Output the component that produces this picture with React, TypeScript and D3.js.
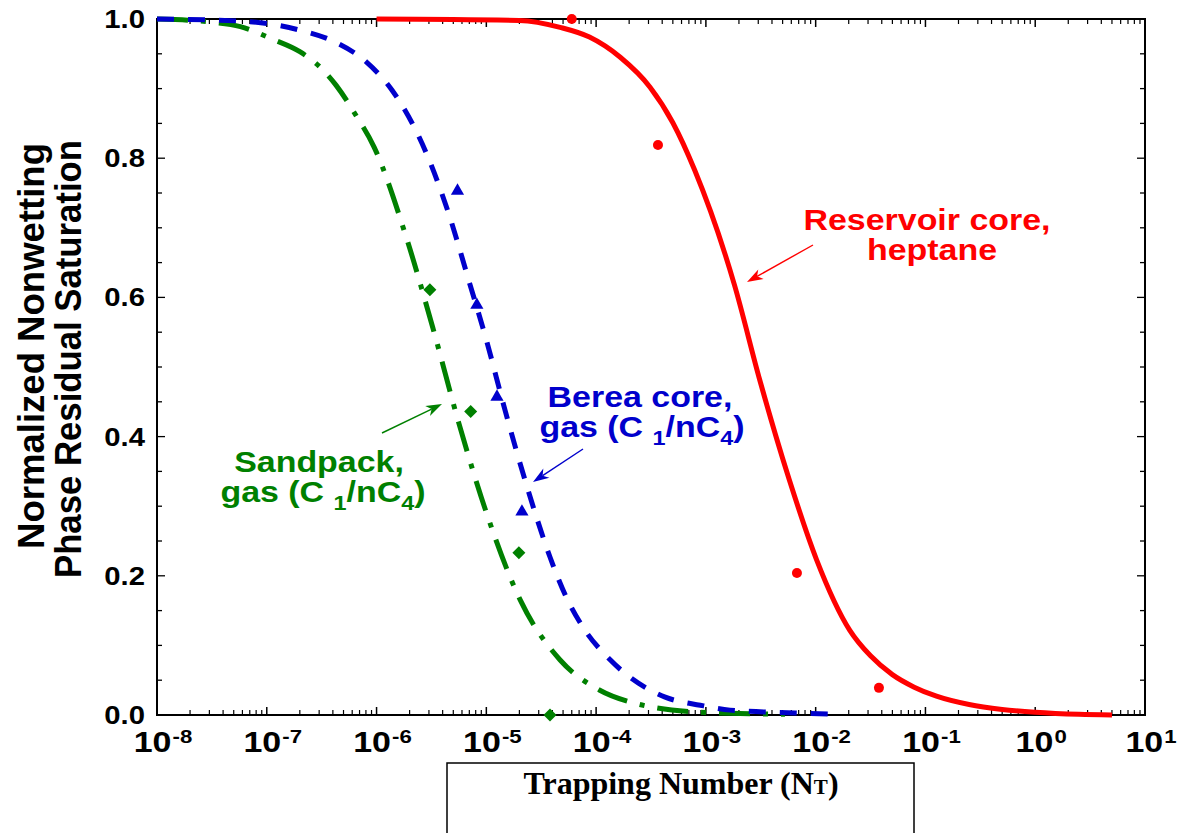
import React from "react";
import * as d3 from "d3";

// ---------- data ----------
// Reservoir core, heptane (fitted curve): [NT, normalized Snr]
const redCurveNT = [1e-6, 2.0e-5, 4.7e-5, 8.7e-5, 1.66e-4, 3.1e-4, 5.0e-4, 7.9e-4, 1.82e-3, 3.1e-3, 5.75e-3, 1.02e-2, 2.04e-2, 3.16e-2, 5.0e-2, 7.9e-2, 0.126, 0.25, 0.5, 1.0, 2.5, 5.0];
const redCurveS = [1.0, 0.998, 0.988, 0.974, 0.945, 0.902, 0.851, 0.783, 0.618, 0.481, 0.338, 0.223, 0.122, 0.085, 0.058, 0.04, 0.027, 0.015, 0.008, 0.004, 0.001, 0.0];
const redPointsNT = [6.0e-5, 3.66e-4, 6.75e-3, 3.77e-2];
const redPointsS = [1.0, 0.819, 0.204, 0.039];

// Berea core, gas (C1/nC4)
const blueCurveNT = [1e-8, 5.75e-8, 2.0e-7, 4.17e-7, 8.1e-7, 1.38e-6, 2.88e-6, 4.68e-6, 6.9e-6, 1.0e-5, 1.48e-5, 2.4e-5, 3.8e-5, 5.25e-5, 7.9e-5, 1.35e-4, 4.2e-4, 8.9e-4, 1.66e-3, 6.5e-3, 1.55e-2];
const blueCurveS = [1.0, 0.997, 0.984, 0.967, 0.938, 0.898, 0.805, 0.714, 0.625, 0.539, 0.438, 0.323, 0.227, 0.172, 0.122, 0.079, 0.026, 0.014, 0.007, 0.003, 0.001];
const bluePointsNT = [5.46e-6, 8.2e-6, 1.25e-5, 2.11e-5];
const bluePointsS = [0.753, 0.589, 0.457, 0.292];

// Sandpack, gas (C1/nC4)
const greenCurveNT = [1e-8, 2.9e-8, 5.75e-8, 1.17e-7, 2.0e-7, 3.24e-7, 4.27e-7, 6.46e-7, 9.5e-7, 1.86e-6, 3.3e-6, 5.6e-6, 1.02e-5, 2.04e-5, 4.7e-5, 1.07e-4, 2.24e-4, 8.9e-4, 5.25e-3];
const greenCurveS = [1.0, 0.996, 0.989, 0.97, 0.953, 0.927, 0.905, 0.862, 0.816, 0.687, 0.553, 0.42, 0.287, 0.165, 0.079, 0.036, 0.017, 0.004, 0.001];
const greenPointsNT = [3.06e-6, 7.2e-6, 1.98e-5, 3.8e-5];
const greenPointsS = [0.611, 0.436, 0.233, 0.0];

// axes
const xDecades = [-8, -7, -6, -5, -4, -3, -2, -1, 0, 1];
const yTickValues = [0, 0.2, 0.4, 0.6, 0.8, 1.0];
const yTickLabels = ["0.0", "0.2", "0.4", "0.6", "0.8", "1.0"];

const RED = "#ff0000";
const BLUE = "#0000cc";
const GREEN = "#008000";
const SANS = "'Liberation Sans', Arial, Helvetica, sans-serif";
const SERIF = "'Liberation Serif', 'Times New Roman', serif";
const SX = 1.17; // horizontal stretch of the original lettering

const W = 1183;
const H = 833;

const x = d3.scaleLog().domain([1e-8, 1e1]).range([157, 1145]);
const y = d3.scaleLinear().domain([0, 1]).range([715, 19]);

const zip = (a: number[], b: number[]) => a.map((v, i) => [v, b[i]] as [number, number]);

const line = d3
  .line<[number, number]>()
  .x((d) => x(d[0]))
  .y((d) => y(d[1]))
  .curve(d3.curveMonotoneX);

function Arrow({ x1, y1, x2, y2, color }: { x1: number; y1: number; x2: number; y2: number; color: string }) {
  const ang = Math.atan2(y2 - y1, x2 - x1);
  const L = 16;
  const Wd = 5.5;
  const ux = Math.cos(ang);
  const uy = Math.sin(ang);
  const bx = x2 - ux * L;
  const by = y2 - uy * L;
  const nx = x2 - ux * L * 0.72;
  const ny = y2 - uy * L * 0.72;
  const p = `M${x2},${y2} L${bx - uy * Wd},${by + ux * Wd} L${nx},${ny} L${bx + uy * Wd},${by - ux * Wd} Z`;
  return (
    <g>
      <line x1={x1} y1={y1} x2={nx} y2={ny} stroke={color} strokeWidth={1.4} />
      <path d={p} fill={color} />
    </g>
  );
}

function Label({ cx, by, color, children }: { cx: number; by: number; color: string; children: React.ReactNode }) {
  return (
    <text
      transform={`translate(${cx},${by}) scale(${SX},1)`}
      textAnchor="middle"
      fontFamily={SANS}
      fontWeight="bold"
      fontSize={29}
      fill={color}
    >
      {children}
    </text>
  );
}

function GasLabel({ cx, by, color }: { cx: number; by: number; color: string }) {
  return (
    <Label cx={cx} by={by} color={color}>
      gas (C{" "}
      <tspan fontSize={20} dy={8}>1</tspan>
      <tspan dy={-8}>/nC</tspan>
      <tspan fontSize={20} dy={8}>4</tspan>
      <tspan dy={-8}>)</tspan>
    </Label>
  );
}

export default function App() {
  const [x0, x1] = x.range();
  const [yb, yt] = y.range();

  const xMajor = xDecades.map((k) => Math.pow(10, k));
  const xMinor: number[] = [];
  xDecades.slice(0, -1).forEach((k) => {
    for (let m = 2; m <= 9; m++) xMinor.push(m * Math.pow(10, k));
  });
  const yAll = d3.range(0, 21).map((i) => i * 0.05);

  const redData = zip(redCurveNT, redCurveS);
  const blueData = zip(blueCurveNT, blueCurveS);
  const greenData = zip(greenCurveNT, greenCurveS);

  const tri = d3.symbol().type(d3.symbolTriangle).size(75)() as string;

  return (
    <svg
      width={W}
      height={H}
      viewBox={`0 0 ${W} ${H}`}
      style={{ position: "absolute", left: 0, top: 0, background: "#fff" }}
    >
      <rect x={0} y={0} width={W} height={H} fill="#fff" />

      {/* frame */}
      <rect x={x0} y={yt} width={x1 - x0} height={yb - yt} fill="none" stroke="#000" strokeWidth={2} />

      {/* x ticks, bottom and top, inward */}
      {xMajor.map((v, i) => (
        <g key={"xM" + i}>
          <line x1={x(v)} x2={x(v)} y1={yb} y2={yb - 8} stroke="#000" strokeWidth={1.5} />
          <line x1={x(v)} x2={x(v)} y1={yt} y2={yt + 8} stroke="#000" strokeWidth={1.5} />
        </g>
      ))}
      {xMinor.map((v, i) => (
        <g key={"xm" + i}>
          <line x1={x(v)} x2={x(v)} y1={yb} y2={yb - 5} stroke="#000" strokeWidth={1.2} />
          <line x1={x(v)} x2={x(v)} y1={yt} y2={yt + 5} stroke="#000" strokeWidth={1.2} />
        </g>
      ))}
      {/* y ticks, left and right, inward */}
      {yAll.map((v, i) => {
        const major = i % 4 === 0;
        const len = major ? 8 : 5;
        return (
          <g key={"y" + i}>
            <line x1={x0} x2={x0 + len} y1={y(v)} y2={y(v)} stroke="#000" strokeWidth={1.3} />
            <line x1={x1} x2={x1 - len} y1={y(v)} y2={y(v)} stroke="#000" strokeWidth={1.3} />
          </g>
        );
      })}

      {/* y tick labels */}
      {yTickValues.map((v, i) => (
        <text
          key={"yl" + i}
          transform={`translate(145,${y(v) + 9}) scale(${SX},1)`}
          textAnchor="end"
          fontFamily={SANS}
          fontWeight="bold"
          fontSize={25}
          fill="#000"
        >
          {yTickLabels[i]}
        </text>
      ))}

      {/* x tick labels */}
      {xDecades.map((k, i) => (
        <text
          key={"xl" + i}
          transform={`translate(${x(Math.pow(10, k)) + 6},752) scale(${SX},1)`}
          textAnchor="middle"
          fontFamily={SANS}
          fontWeight="bold"
          fontSize={29}
          fill="#000"
        >
          10
          <tspan fontSize={19} dy={-9} dx={1}>{String(k)}</tspan>
        </text>
      ))}

      {/* y title */}
      <text
        transform="translate(44,346) rotate(-90)"
        textAnchor="middle"
        fontFamily={SANS}
        fontWeight="bold"
        fontSize={37}
        textLength={406}
        lengthAdjust="spacingAndGlyphs"
        fill="#000"
      >
        Normalized Nonwetting
      </text>
      <text
        transform="translate(81,359) rotate(-90)"
        textAnchor="middle"
        fontFamily={SANS}
        fontWeight="bold"
        fontSize={37}
        textLength={438}
        lengthAdjust="spacingAndGlyphs"
        fill="#000"
      >
        Phase Residual Saturation
      </text>

      {/* x title box */}
      <rect x={447} y={763} width={467} height={100} fill="#fff" stroke="#000" strokeWidth={1.5} />
      <text x={681} y={794} textAnchor="middle" fontFamily={SERIF} fontWeight="bold" fontSize={32} fill="#000">
        Trapping Number (N<tspan fontSize={21}>T</tspan>)
      </text>

      {/* curves */}
      <path d={line(greenData) as string} fill="none" stroke={GREEN} strokeWidth={5} strokeDasharray="31 13 5 13" />
      <path d={line(blueData) as string} fill="none" stroke={BLUE} strokeWidth={5} strokeDasharray="17 14" />
      <path d={line(redData) as string} fill="none" stroke={RED} strokeWidth={5} />

      {/* data points */}
      {zip(redPointsNT, redPointsS).map((d, i) => (
        <circle key={"rp" + i} cx={x(d[0])} cy={y(d[1])} r={5} fill={RED} />
      ))}
      {zip(bluePointsNT, bluePointsS).map((d, i) => (
        <path key={"bp" + i} d={tri} transform={`translate(${x(d[0])},${y(d[1])})`} fill={BLUE} />
      ))}
      {zip(greenPointsNT, greenPointsS).map((d, i) => (
        <rect
          key={"gp" + i}
          x={-4.6}
          y={-4.6}
          width={9.2}
          height={9.2}
          transform={`translate(${x(d[0])},${y(d[1])}) rotate(45)`}
          fill={GREEN}
        />
      ))}

      {/* annotations */}
      <Label cx={927} by={230} color={RED}>Reservoir core,</Label>
      <Label cx={932} by={260} color={RED}>heptane</Label>
      <Arrow x1={813} y1={245} x2={747} y2={282} color={RED} />

      <Label cx={640} by={407} color={BLUE}>Berea core,</Label>
      <GasLabel cx={642} by={437} color={BLUE} />
      <Arrow x1={583} y1={449} x2={533} y2={482} color={BLUE} />

      <Label cx={319} by={472} color={GREEN}>Sandpack,</Label>
      <GasLabel cx={323} by={502} color={GREEN} />
      <Arrow x1={382} y1={433} x2={442} y2={404} color={GREEN} />
    </svg>
  );
}
